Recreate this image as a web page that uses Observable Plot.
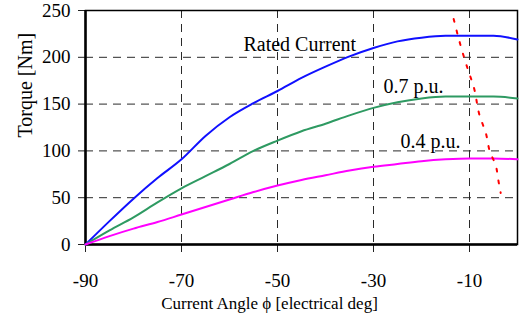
<!DOCTYPE html>
<html>
<head>
<meta charset="utf-8">
<script src="https://cdn.jsdelivr.net/npm/d3@7"></script>
<script src="https://cdn.jsdelivr.net/npm/@observablehq/plot@0.6"></script>
<style>
  html, body { margin: 0; padding: 0; background: #fff; overflow: hidden; }
  svg, svg text { font-family: "Liberation Serif", "Times New Roman", serif !important; }
</style>
</head>
<body>
<div id="chart"></div>
<script>
const angles = [-90,-85,-80,-75,-70,-65,-60,-55,-50,-45,-40,-35,-30,-25,-20,-15,-10,-5,0];
const rated  = [0,25,49,71,91,116,136,151,164,178,190,201,210,217,221,223,223,223,219];
const pu07   = [0,15,29,45,60,73,86,100,111,121,129,138,146,152,156,158,158,158,156];
const pu04   = [0,9,17,24,32,40,48,56,63,69,74,79,83,86,89,91,92,92,91];
const limitAngle  = [-13.3,-11.6,-10.4,-9.1,-7.9,-6.6,-5.6,-4.7,-3.9,-3.5];
const limitTorque = [241,208,188,168,138,119,97,87,66,55];
const xTicks = [-90,-70,-50,-30,-10];
const yTicks = [0,50,100,150,200,250];
const curveLabels = [
  {x: -57.1, y: 207, text: "Rated Current"},
  {x: -27.9, y: 162, text: "0.7 p.u."},
  {x: -24.4, y: 103, text: "0.4 p.u."}
];
const xTitle = "Current Angle ϕ [electrical deg]";
const yTitle = "Torque [Nm]";

const series = [
  {name: "Rated", values: rated, color: "#1010ff"},
  {name: "0.7", values: pu07, color: "#2e9a62"},
  {name: "0.4", values: pu04, color: "#ff00ff"}
];
const rows = series.flatMap(s => angles.map((a, i) => ({angle: a, torque: s.values[i], name: s.name})));
const limitRows = limitAngle.map((a, i) => ({angle: a, torque: limitTorque[i]}));

const chart = Plot.plot({
  width: 522,
  height: 322,
  marginLeft: 85,
  marginRight: 5,
  marginTop: 10,
  marginBottom: 78,
  style: {fontFamily: "'Liberation Serif', serif", fontSize: "18px", color: "#000", background: "#fff"},
  x: {domain: [-90, 0]},
  y: {domain: [0, 250]},
  color: {domain: series.map(s => s.name), range: series.map(s => s.color)},
  marks: [
    Plot.gridX(xTicks.slice(1), {stroke: "#2a2a2a", strokeOpacity: 1, strokeWidth: 1, strokeDasharray: "8,6"}),
    Plot.gridY(yTicks.slice(1, -1), {stroke: "#2a2a2a", strokeOpacity: 1, strokeWidth: 1, strokeDasharray: "8,6"}),
    Plot.axisX({ticks: xTicks, tickSize: 8, tickPadding: 21, stroke: "#222", label: null, fontSize: 19, tickFormat: d => String(d)}),
    Plot.axisY({ticks: yTicks, tickSize: 7, tickPadding: 8, stroke: "#222", label: null, fontSize: 19, tickFormat: d => String(d)}),
    Plot.frame({stroke: "#000", strokeWidth: 1.5}),
    Plot.ruleX([-90], {stroke: "#000", strokeWidth: 2.5}),
    Plot.ruleY([0], {stroke: "#000", strokeWidth: 2.5}),
    Plot.line(rows, {x: "angle", y: "torque", z: "name", stroke: "name", strokeWidth: 2, curve: "monotone-x"}),
    Plot.line(limitRows, {x: "angle", y: "torque", stroke: "#ff0000", strokeWidth: 2, strokeDasharray: "3,9", curve: "monotone-y"}),
    Plot.text(curveLabels, {x: "x", y: "y", text: "text", textAnchor: "start", lineAnchor: "bottom", fontSize: 20, fill: "#000"}),
    Plot.text([xTitle], {frameAnchor: "bottom", dx: -32, dy: 59, lineAnchor: "middle", fontSize: 17, fill: "#000"}),
    Plot.text([yTitle], {frameAnchor: "left", dx: -60, dy: 10, rotate: -90, fontSize: 20, fill: "#000"})
  ]
});
document.getElementById("chart").appendChild(chart);
</script>
</body>
</html>
